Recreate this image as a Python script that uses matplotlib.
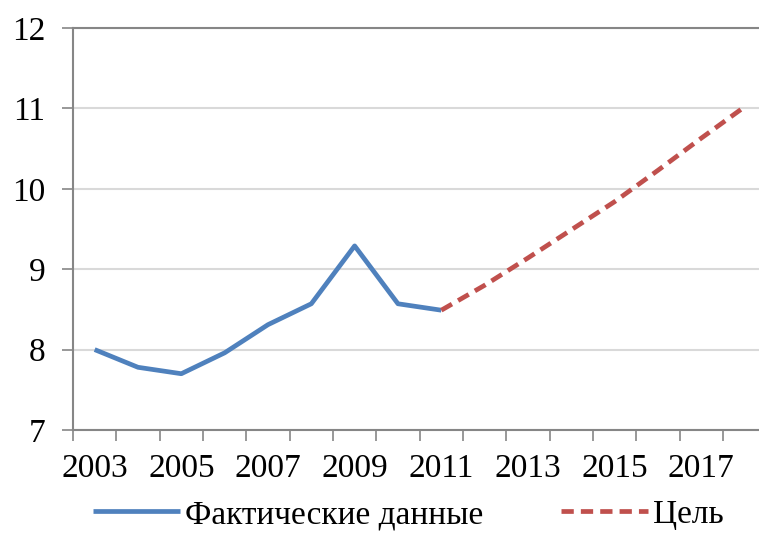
import numpy as np
import matplotlib.pyplot as plt
from matplotlib.ticker import FixedLocator

# data
years_fact = [2003, 2004, 2005, 2006, 2007, 2008, 2009, 2010, 2011]
fact = [8.00, 7.78, 7.70, 7.96, 8.31, 8.57, 9.29, 8.57, 8.49]
years_goal = [2011, 2012, 2013, 2014, 2015, 2016, 2017, 2018]
goal = [8.49, 8.80, 9.14, 9.49, 9.84, 10.23, 10.63, 11.02]
xlabels = [2003, 2005, 2007, 2009, 2011, 2013, 2015, 2017]

plt.rcParams['font.family'] = ['Liberation Serif', 'DejaVu Serif']

fig = plt.figure(figsize=(7.59, 5.36), dpi=100)
ax = fig.add_axes([73/759, 1-430/536, 1-73/759, (430-28)/536])

ax.plot(years_fact, fact, color='#4f81bd', lw=3.4, label='Фактические данные',
        solid_capstyle='butt', zorder=3)
ax.plot(years_goal, goal, color='#c0504d', lw=3.4, ls=(0, (2.6, 1.5)), label='Цель',
        zorder=3)

ax.set_ylim(7, 12)
ax.set_xlim(2002.5, 2002.5 + 686/43.33)
ax.set_yticks([7, 8, 9, 10, 11, 12])
ax.set_xticks(xlabels)
ax.xaxis.set_minor_locator(FixedLocator(np.arange(2002.5, 2018, 1.0)))
ax.tick_params(axis='x', which='major', length=0, pad=17, labelsize=24)
ax.tick_params(axis='x', which='minor', length=8, width=1.2, color='#868686')
ax.tick_params(axis='y', length=8, width=1.2, color='#868686', pad=12, labelsize=24)

ax.yaxis.grid(True, color='#d9d9d9', lw=1.5)
ax.set_axisbelow(True)
ax.spines['right'].set_visible(False)
for s in ['top', 'left', 'bottom']:
    ax.spines[s].set_color('#868686')
    ax.spines[s].set_linewidth(1.5)

fig.legend(loc='lower center', bbox_to_anchor=(0.538, -0.045), ncol=2, frameon=False,
           fontsize=24, handlelength=2.6, handletextpad=0.15, columnspacing=2.35)

fig.savefig('out.png', dpi=100)
